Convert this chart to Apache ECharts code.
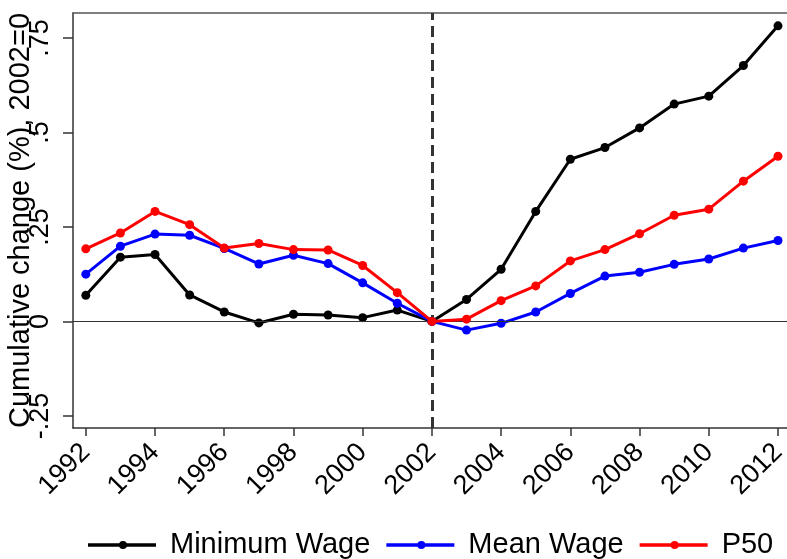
<!DOCTYPE html>
<html>
<head>
<meta charset="utf-8">
<script src="https://cdn.jsdelivr.net/npm/echarts@6/dist/echarts.min.js"></script>
<style>html,body{margin:0;padding:0;background:#fff}#c{width:787px;height:559px}</style>
</head>
<body>
<div id="c"></div>
<script>
var years = [1992,1993,1994,1995,1996,1997,1998,1999,2000,2001,2002,2003,2004,2005,2006,2007,2008,2009,2010,2011,2012];
var minWage = [0.069,0.170,0.177,0.070,0.025,-0.004,0.019,0.017,0.010,0.030,0,0.058,0.138,0.291,0.429,0.460,0.512,0.575,0.596,0.677,0.782];
var meanWage = [0.125,0.199,0.231,0.228,0.193,0.152,0.175,0.153,0.102,0.048,0,-0.023,-0.005,0.025,0.074,0.120,0.130,0.151,0.165,0.194,0.214];
var p50 = [0.192,0.234,0.291,0.256,0.194,0.206,0.190,0.189,0.148,0.076,0,0.006,0.055,0.094,0.160,0.190,0.232,0.281,0.297,0.371,0.437];
var xTicks = [1992,1994,1996,1998,2000,2002,2004,2006,2008,2010,2012];
var yTicks = [-0.25,0,0.25,0.5,0.75];
var yTickLabels = ['-.25','0','.25','.5','.75'];
var seriesNames = ['Minimum Wage','Mean Wage','P50'];
var seriesColors = ['#000000','#0000ff','#ff0000'];
var refYear = 2002;

function pairs(arr){ return years.map(function(y,i){ return [y, arr[i]]; }); }
var FONT = 'Liberation Sans, Arial, sans-serif';
var chart = echarts.init(document.getElementById('c'), null, {renderer:'canvas'});
var dataSets = [minWage, meanWage, p50];
var legendIcon = 'path://M0,4.2 L68,4.2 L68,7.8 L0,7.8 Z M31,6 A4,4 0 1,1 39,6 A4,4 0 1,1 31,6 Z';
var series = dataSets.map(function(d,i){
  var s = {
    name: seriesNames[i], type:'line', data: pairs(d),
    symbol:'circle', symbolSize:9,
    lineStyle:{color:seriesColors[i], width:3},
    itemStyle:{color:seriesColors[i]},
    z: 3+i, animation:false
  };
  if(i===0){
    s.markLine = {
      silent:true, symbol:'none', animation:false,
      label:{show:false},
      data:[
        {yAxis:0, lineStyle:{color:'#333', width:1.2, type:'solid'}},
        {xAxis:refYear, lineStyle:{color:'#333', width:3, type:[11,6]}}
      ]
    };
  }
  return s;
});
chart.setOption({
  animation:false,
  backgroundColor:'#fff',
  textStyle:{fontFamily:FONT},
  grid:{left:73, right:0, top:13, bottom:131, outerBoundsMode:'none', containLabel:false},
  legend:{
    data:seriesNames.map(function(n,i){ return {name:n, icon:legendIcon, itemStyle:{color:seriesColors[i]}}; }),
    top:530, left:88, padding:0,
    itemWidth:68, itemHeight:8, itemGap:16,
    textStyle:{fontSize:29, lineHeight:30, color:'#000', fontFamily:FONT, padding:[0,0,0,9]}
  },
  xAxis:[{
    type:'value', min:1991.63, max:2012.26,
    axisLine:{show:true, onZero:false, lineStyle:{color:'#333', width:1.5}},
    axisTick:{show:true, length:8, customValues:xTicks, lineStyle:{color:'#333', width:1.5}},
    axisLabel:{customValues:xTicks, rotate:45, fontSize:27, color:'#000', margin:20, fontFamily:FONT, formatter:function(v){return String(v);}},
    splitLine:{show:false}
  },{
    type:'value', position:'top', min:1991.63, max:2012.26,
    axisLine:{show:true, onZero:false, lineStyle:{color:'#555', width:1.5}},
    axisTick:{show:false}, axisLabel:{show:false}, splitLine:{show:false}
  }],
  yAxis:{
    type:'value', min:-0.282, max:0.816,
    name:'Cumulative change (%), 2002=0', nameLocation:'middle', nameRotate:90, nameGap:38, nameMoveOverlap:false,
    nameTextStyle:{fontSize:29, color:'#000', fontFamily:FONT},
    axisLine:{show:true, onZero:false, lineStyle:{color:'#333', width:1.5}},
    axisTick:{show:true, length:10, customValues:yTicks, lineStyle:{color:'#333', width:1.5}},
    axisLabel:{customValues:yTicks, rotate:90, fontSize:27, color:'#000', margin:19, fontFamily:FONT,
      formatter:function(v){ var i = yTicks.indexOf(Math.round(v*100)/100); return i>=0 ? yTickLabels[i] : ''; }},
    splitLine:{show:false}
  },
  series:series
});
</script>
</body>
</html>
